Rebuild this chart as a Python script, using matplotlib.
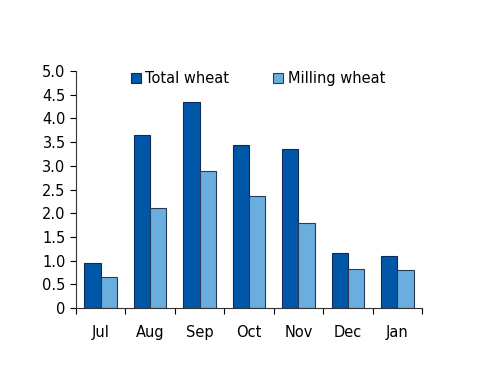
import matplotlib
matplotlib.use("Agg")
import matplotlib.pyplot as plt
import numpy as np

months = ["Jul", "Aug", "Sep", "Oct", "Nov", "Dec", "Jan"]
total_wheat = [0.96, 3.64, 4.35, 3.43, 3.36, 1.17, 1.10]
milling_wheat = [0.65, 2.11, 2.89, 2.36, 1.79, 0.83, 0.80]
yticks = [0, 0.5, 1.0, 1.5, 2.0, 2.5, 3.0, 3.5, 4.0, 4.5, 5.0]
ytick_labels = ["0", "0.5", "1.0", "1.5", "2.0", "2.5", "3.0", "3.5", "4.0", "4.5", "5.0"]

fig = plt.figure(figsize=(5, 3.86), dpi=100)
ax = fig.add_axes([0.152, 0.202, 0.692, 0.614])

x = np.arange(len(months))
w = 0.33
ax.bar(x - w/2, total_wheat, w, color="#0057A8", edgecolor="#102a55", linewidth=0.8, label="Total wheat")
ax.bar(x + w/2, milling_wheat, w, color="#6AAEE0", edgecolor="#2a3a55", linewidth=0.8, label="Milling wheat")

ax.set_xlim(-0.5, len(months) - 0.5)
ax.set_ylim(0, 5.0)
ax.set_yticks(yticks)
ax.set_yticklabels(ytick_labels, fontsize=10.5)
ax.set_xticks(np.arange(len(months) + 1) - 0.5)
ax.set_xticklabels([])
ax.set_xticks(x, minor=True)
ax.set_xticklabels(months, minor=True, fontsize=10.5)
ax.tick_params(axis="x", which="minor", length=0, pad=12)
ax.tick_params(axis="x", which="major", direction="out", length=4)
ax.tick_params(axis="y", direction="out", length=4)
ax.spines["top"].set_visible(False)
ax.spines["right"].set_visible(False)
for s in ["left", "bottom"]:
    ax.spines[s].set_color("#333333")

ax.legend(loc="upper left", bbox_to_anchor=(0.12, 1.055), ncol=2, frameon=False,
          fontsize=10.5, handlelength=0.7, handleheight=0.7, handletextpad=0.3,
          columnspacing=3.0)

fig.savefig("out.png", dpi=100)
